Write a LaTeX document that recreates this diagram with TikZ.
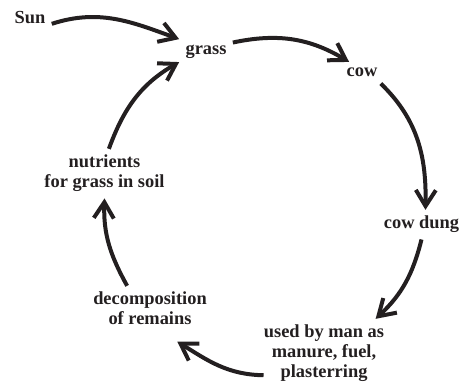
\documentclass[tikz,border=0pt]{standalone}
\usepackage{fontspec}
\setmainfont{Liberation Serif}
\usepackage{xcolor}
\usetikzlibrary{arrows.meta}
\definecolor{myink}{RGB}{35,31,32}

\begin{document}
\begin{tikzpicture}[x=0.5pt,y=0.5pt,
  lbl/.style={anchor=base, align=center, inner sep=3pt, text=myink,
    font=\fontsize{9.2}{10}\selectfont\bfseries},
  flow/.style={draw=myink, line width=2pt,
    -{Straight Barb[length=8pt,width=10pt]}}]
\useasboundingbox (0,0) rectangle (469,383);

% labels (base = last line)
\node[lbl] (sun) at (30,359) {Sun};
\node[lbl] (grass) at (206,328) {grass};
\node[lbl] (cow) at (362,306) {cow};
\node[lbl] (cowdung) at (421.5,154) {cow dung};
\node[lbl] (used) at (324,5) {used by man as\\manure, fuel,\\plasterring};
\node[lbl] (decomp) at (150,58) {decomposition\\of remains};
\node[lbl] (nutr) at (104.5,195) {nutrients\\for grass in soil};

% cycle
\draw[flow] (sun.-15) to[out=18,in=160] (grass.north west);
\draw[flow] (grass.20) to[out=12,in=149] (cow.140);
\draw[flow] (cow.-30) to[out=-44,in=89] (cowdung.75);
\draw[flow] (cowdung.south) to[out=-104,in=43] (used.34);
\draw[flow] ([xshift=3pt]used.198) to[out=179,in=-32] ([yshift=-5pt]decomp.-40);
\draw[flow] (decomp.135) to[out=119,in=-92] (nutr.south);
\draw[flow] (nutr.80) to[out=70,in=210] (grass.200);
\end{tikzpicture}
\end{document}
